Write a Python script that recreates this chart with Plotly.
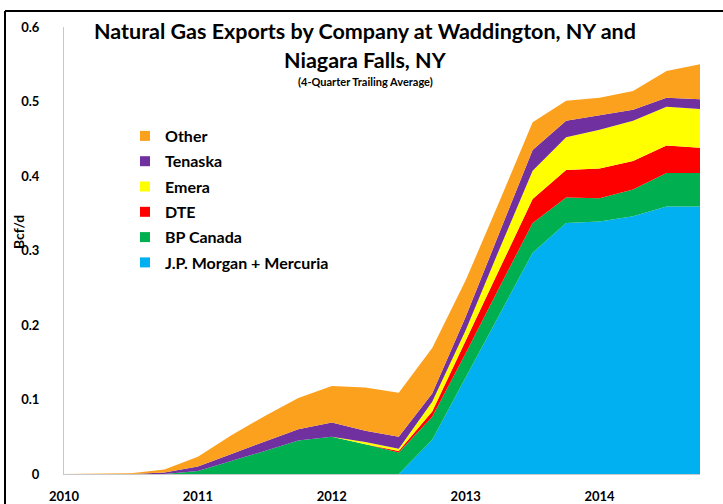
import plotly.graph_objects as go

quarters = [f"{y}Q{q}" for y in range(2010, 2015) for q in range(1, 5)]
year_ticks = ["2010Q1", "2011Q1", "2012Q1", "2013Q1", "2014Q1"]
year_labels = ["2010", "2011", "2012", "2013", "2014"]

jpm = [0, 0, 0, 0, 0, 0, 0, 0, 0, 0, 0, 0.046, 0.129, 0.213, 0.297, 0.337, 0.339, 0.346, 0.359, 0.359]
bp = [0, 0, 0, 0, 0.004, 0.017, 0.031, 0.045, 0.050, 0.040, 0.029, 0.031, 0.033, 0.037, 0.040, 0.034, 0.031, 0.036, 0.045, 0.045]
dte = [0, 0, 0, 0, 0, 0, 0, 0, 0, 0, 0.002, 0.007, 0.018, 0.024, 0.032, 0.037, 0.040, 0.038, 0.037, 0.034]
emera = [0, 0, 0, 0, 0, 0, 0, 0, 0, 0.003, 0.003, 0.013, 0.013, 0.027, 0.038, 0.044, 0.052, 0.054, 0.052, 0.052]
tenaska = [0, 0, 0, 0.002, 0.006, 0.010, 0.013, 0.015, 0.019, 0.015, 0.016, 0.011, 0.018, 0.022, 0.028, 0.022, 0.020, 0.015, 0.012, 0.013]
other = [0, 0, 0.001, 0.004, 0.013, 0.025, 0.034, 0.042, 0.049, 0.058, 0.059, 0.061, 0.049, 0.042, 0.037, 0.027, 0.023, 0.025, 0.036, 0.047]

series = [
    ("J.P. Morgan + Mercuria", jpm, "#00B0F0"),
    ("BP Canada", bp, "#00B050"),
    ("DTE", dte, "#FF0000"),
    ("Emera", emera, "#FFFF00"),
    ("Tenaska", tenaska, "#7030A0"),
    ("Other", other, "#FCA11E"),
]

FONT = "Lato"
fig = go.Figure()
for name, vals, col in series:
    fig.add_trace(go.Scatter(
        x=quarters, y=vals, name=name, mode="lines", stackgroup="one",
        line=dict(width=0, color=col), fillcolor=col, showlegend=False,
    ))
for name, vals, col in series[::-1]:
    fig.add_trace(go.Scatter(
        x=[None], y=[None], name=name, mode="markers", legendgroup=name,
        marker=dict(symbol="square", size=10, color=col), showlegend=True,
    ))

L, R, T, B = 64, 700, 27, 474
W, H = 723, 504

def px(x):
    return (x - L) / (R - L)

def py(y):
    return (B - y) / (B - T)

fig.update_layout(
    width=W, height=H,
    margin=dict(l=L, r=W - R, t=T, b=H - B, pad=0),
    paper_bgcolor="white", plot_bgcolor="white",
    font=dict(family=FONT, color="black"),
    showlegend=True,
    legend=dict(
        x=px(125), y=py(119), xanchor="left", yanchor="top",
        traceorder="grouped", tracegroupgap=1.5,
        bgcolor="rgba(0,0,0,0)",
        font=dict(family=FONT, size=16, color="black", weight="bold"),
    ),
    xaxis=dict(
        type="category", range=[0, 19], automargin=False,
        tickvals=year_ticks, ticktext=year_labels,
        showgrid=False, zeroline=False,
        showline=True, linecolor="#C8C8C8", linewidth=1,
        ticks="", ticklabelstandoff=10,
        tickfont=dict(family=FONT, size=13, color="black", weight="bold"),
    ),
    yaxis=dict(
        range=[0, 0.6], automargin=False,
        tickvals=[0, 0.1, 0.2, 0.3, 0.4, 0.5, 0.6],
        ticktext=["0", "0.1", "0.2", "0.3", "0.4", "0.5", "0.6"],
        showgrid=False, zeroline=False,
        showline=True, linecolor="#C8C8C8", linewidth=1,
        ticks="", ticklabelstandoff=21,
        tickfont=dict(family=FONT, size=13, color="black", weight="bold"),
    ),
    annotations=[
        dict(text="Natural Gas Exports by Company at Waddington, NY and",
             x=px(365), y=py(31), xref="paper", yref="paper", showarrow=False,
             xanchor="center", yanchor="middle",
             font=dict(family=FONT, size=21.5, color="black", weight="bold")),
        dict(text="Niagara Falls, NY",
             x=px(365), y=py(60), xref="paper", yref="paper", showarrow=False,
             xanchor="center", yanchor="middle",
             font=dict(family=FONT, size=21.5, color="black", weight="bold")),
        dict(text="(4-Quarter Trailing Average)",
             x=px(365), y=py(82), xref="paper", yref="paper", showarrow=False,
             xanchor="center", yanchor="middle",
             font=dict(family=FONT, size=11, color="black", weight="bold")),
        dict(text="Bcf/d", textangle=-90,
             x=px(18), y=py(232), xref="paper", yref="paper", showarrow=False,
             xanchor="center", yanchor="middle",
             font=dict(family=FONT, size=14, color="black", weight="bold")),
    ],
    shapes=[
        dict(type="line", xref="paper", yref="paper",
             x0=px(5), x1=px(730), y0=py(11), y1=py(11),
             line=dict(color="black", width=2)),
        dict(type="line", xref="paper", yref="paper",
             x0=px(5), x1=px(5), y0=py(11), y1=py(510),
             line=dict(color="black", width=2)),
    ],
)

fig.write_html("out.html", config={"displayModeBar": False},
               post_script="document.body.style.margin='0';")
